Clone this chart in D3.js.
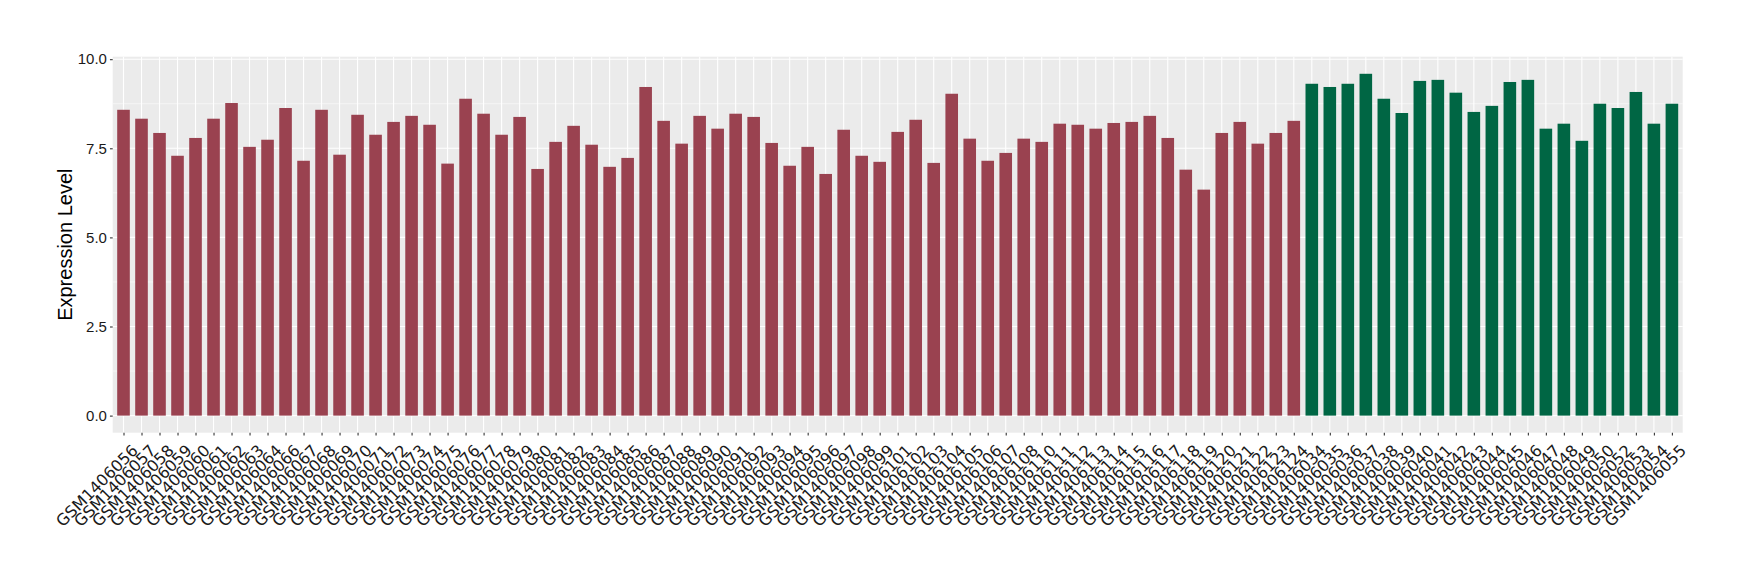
<!DOCTYPE html>
<html>
<head>
<meta charset="utf-8">
<script src="https://cdn.jsdelivr.net/npm/d3@7"></script>
<style>
  html, body { margin: 0; padding: 0; background: #ffffff; }
  svg { display: block; }
</style>
</head>
<body>
<svg id="chart" width="1740" height="580"></svg>
<script>
// ---- data ----
const samples = [
  "GSM1406056","GSM1406057","GSM1406058","GSM1406059","GSM1406060","GSM1406061","GSM1406062","GSM1406063","GSM1406064",
  "GSM1406066","GSM1406067","GSM1406068","GSM1406069","GSM1406070","GSM1406071","GSM1406072","GSM1406073","GSM1406074",
  "GSM1406075","GSM1406076","GSM1406077","GSM1406078","GSM1406079","GSM1406080","GSM1406081","GSM1406082","GSM1406083",
  "GSM1406084","GSM1406085","GSM1406086","GSM1406087","GSM1406088","GSM1406089","GSM1406090","GSM1406091","GSM1406092",
  "GSM1406093","GSM1406094","GSM1406095","GSM1406096","GSM1406097","GSM1406098","GSM1406099","GSM1406101","GSM1406102",
  "GSM1406103","GSM1406104","GSM1406105","GSM1406106","GSM1406107","GSM1406108","GSM1406110","GSM1406111","GSM1406112",
  "GSM1406113","GSM1406114","GSM1406115","GSM1406116","GSM1406117","GSM1406118","GSM1406119","GSM1406120","GSM1406121",
  "GSM1406122","GSM1406123","GSM1406124",
  "GSM1406034","GSM1406035","GSM1406036","GSM1406037","GSM1406038","GSM1406039","GSM1406040","GSM1406041","GSM1406042",
  "GSM1406043","GSM1406044","GSM1406045","GSM1406046","GSM1406047","GSM1406048","GSM1406049","GSM1406050","GSM1406052",
  "GSM1406053","GSM1406054","GSM1406055"
];
const values = [
  8.58, 8.33, 7.93, 7.29, 7.79, 8.33, 8.77, 7.54, 7.74,
  8.63, 7.15, 8.58, 7.32, 8.44, 7.88, 8.24, 8.41, 8.16,
  7.07, 8.89, 8.47, 7.88, 8.38, 6.92, 7.68, 8.13, 7.60,
  6.98, 7.23, 9.22, 8.27, 7.63, 8.41, 8.05, 8.47, 8.38,
  7.65, 7.01, 7.54, 6.78, 8.02, 7.29, 7.12, 7.96, 8.30,
  7.09, 9.03, 7.77, 7.15, 7.37, 7.77, 7.68, 8.19, 8.16,
  8.05, 8.21, 8.24, 8.41, 7.79, 6.90, 6.34, 7.93, 8.24,
  7.63, 7.93, 8.27,
  9.31, 9.22, 9.31, 9.59, 8.89, 8.49, 9.39, 9.42, 9.06,
  8.52, 8.69, 9.36, 9.42, 8.05, 8.19, 7.71, 8.75, 8.63,
  9.08, 8.19, 8.75
];
const groups = samples.map((s, i) => i < 66 ? "A" : "B");
const groupColors = { A: "#9A4250", B: "#006644" };
const yTicks = [0, 2.5, 5, 7.5, 10];
const yMinor = [1.25, 3.75, 6.25, 8.75];
const yTitle = "Expression Level";

// ---- layout ----
const panel = { left: 112.7, right: 1682.7, top: 56.7, bottom: 432.7 };
const svg = d3.select("#chart");

const lo = 0, hi = d3.max(values);
const pad = (hi - lo) * 0.05;
const y = d3.scaleLinear().domain([lo - pad, hi + pad]).range([panel.bottom, panel.top]);
const x = d3.scalePoint().domain(samples).range([panel.left, panel.right]).padding(0.6);
const barW = x.step() * 0.7;

// panel background
svg.append("rect")
  .attr("x", panel.left).attr("y", panel.top)
  .attr("width", panel.right - panel.left).attr("height", panel.bottom - panel.top)
  .attr("fill", "#EBEBEB");

// minor grid
svg.append("g").selectAll("line").data(yMinor).join("line")
  .attr("x1", panel.left).attr("x2", panel.right)
  .attr("y1", d => y(d)).attr("y2", d => y(d))
  .attr("stroke", "#ffffff").attr("stroke-width", 0.55);
// major grid
svg.append("g").selectAll("line").data(yTicks).join("line")
  .attr("x1", panel.left).attr("x2", panel.right)
  .attr("y1", d => y(d)).attr("y2", d => y(d))
  .attr("stroke", "#ffffff").attr("stroke-width", 1.1);
svg.append("g").selectAll("line").data(samples).join("line")
  .attr("x1", d => x(d)).attr("x2", d => x(d))
  .attr("y1", panel.top).attr("y2", panel.bottom)
  .attr("stroke", "#ffffff").attr("stroke-width", 1.1);

// bars
svg.append("g").selectAll("rect").data(samples).join("rect")
  .attr("x", d => x(d) - barW / 2)
  .attr("width", barW)
  .attr("y", (d, i) => y(values[i]))
  .attr("height", (d, i) => y(0) - y(values[i]))
  .attr("fill", (d, i) => groupColors[groups[i]]);

// y axis
const yAxis = svg.append("g")
  .attr("transform", `translate(${panel.left},0)`)
  .call(d3.axisLeft(y).tickValues(yTicks).tickFormat(d3.format(".1f")).tickSize(2.75).tickPadding(3));
yAxis.select(".domain").remove();
yAxis.selectAll(".tick line").attr("stroke", "#333333").attr("stroke-width", 1.1);
yAxis.selectAll(".tick text")
  .attr("font-family", "'Liberation Sans', Arial, sans-serif")
  .attr("font-size", 15).attr("fill", "#1a1a1a");

// x axis
const xAxis = svg.append("g")
  .attr("transform", `translate(0,${panel.bottom})`)
  .call(d3.axisBottom(x).tickSize(2.75).tickSizeOuter(0));
xAxis.select(".domain").remove();
xAxis.selectAll(".tick line").attr("stroke", "#333333").attr("stroke-width", 1.1);
xAxis.selectAll(".tick text")
  .attr("font-family", "'DejaVu Sans', sans-serif")
  .attr("font-size", 16).attr("fill", "#1a1a1a")
  .attr("text-anchor", "end")
  .attr("x", 0).attr("y", 0).attr("dy", "21px")
  .attr("transform", "translate(0,4) rotate(-45)");

// y title
svg.append("text")
  .attr("transform", `translate(71.5,${(panel.top + panel.bottom) / 2}) rotate(-90)`)
  .attr("text-anchor", "middle")
  .attr("font-family", "'Liberation Sans', Arial, sans-serif")
  .attr("font-size", 20).attr("fill", "#000000")
  .text(yTitle);
</script>
</body>
</html>
